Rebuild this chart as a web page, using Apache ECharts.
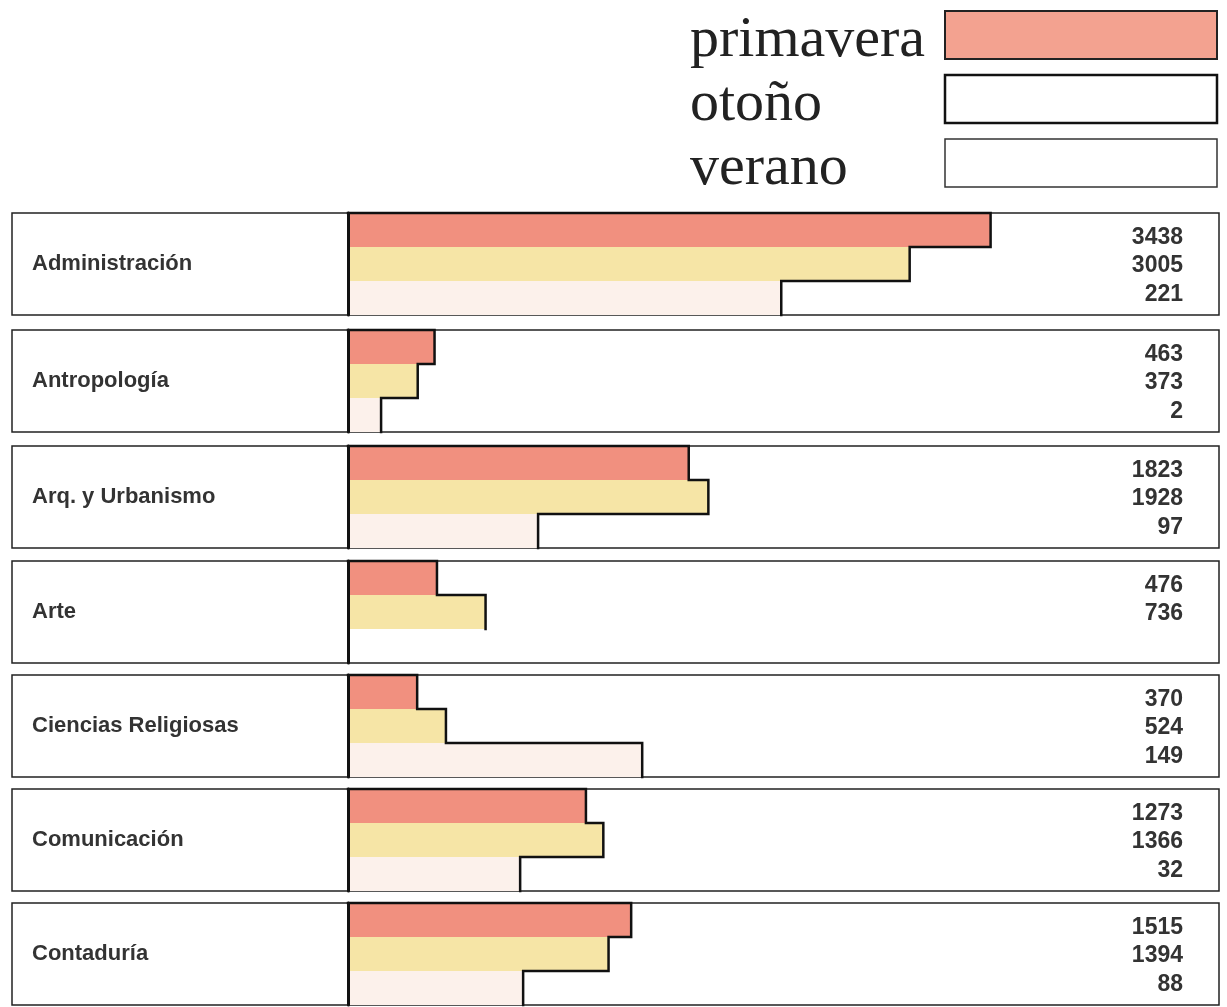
<!DOCTYPE html>
<html>
<head>
<meta charset="utf-8">
<script src="https://cdn.jsdelivr.net/npm/echarts@6.0.0/dist/echarts.min.js"></script>
<style>
html,body{margin:0;padding:0;background:#ffffff;}
#chart{width:1227px;height:1007px;}
</style>
</head>
<body>
<div id="chart"></div>
<script>
// ---------------- data ----------------
const categories = ['Administración', 'Antropología', 'Arq. y Urbanismo', 'Arte', 'Ciencias Religiosas', 'Comunicación', 'Contaduría'];
const seasons = ['primavera', 'otoño', 'verano'];
const primavera = [3438, 463, 1823, 476, 370, 1273, 1515];
const otono = [3005, 373, 1928, 736, 524, 1366, 1394];
// printed verano figures (Arte has none)
const verano = [221, 2, 97, null, 149, 32, 88];
// verano bar lengths as drawn in the original, in the same units as the axis
// (the printed figures above are not drawn to scale in the source)
const veranoBar = [2318, 177, 1017, null, 1574, 921, 937];

// ---------------- layout ----------------
const panelTops = [213, 330, 446, 561, 675, 789, 903];
const panelH = 102;
const leftX = 12, splitX = 348, rightX = 1219;
const axisMax = 4660;

const colors = { primavera: '#f1907f', otono: '#f6e5a6', verano: '#fcf1eb' };
const textColor = '#333333';
const sansFont = '"Liberation Sans", Arial, Helvetica, sans-serif';

const grid = [], xAxis = [], yAxis = [], series = [];

categories.forEach((cat, i) => {
  const top = panelTops[i];
  // label cell
  const gL = grid.length;
  grid.push({ left: leftX, top: top, width: splitX - leftX, height: panelH, show: true,
    borderColor: '#222', borderWidth: 1.5, backgroundColor: '#fff', outerBoundsMode: 'none', containLabel: false });
  xAxis.push({ gridIndex: gL, type: 'value', show: false });
  yAxis.push({ gridIndex: gL, type: 'category', data: [cat],
    axisLine: { show: false }, axisTick: { show: false }, splitLine: { show: false },
    axisLabel: { inside: true, interval: 0, margin: 20, fontFamily: sansFont, fontWeight: 'bold', fontSize: 22, color: textColor } });

  // bar cell
  const gB = grid.length;
  grid.push({ left: splitX, top: top, width: rightX - splitX, height: panelH, show: true,
    borderColor: '#222', borderWidth: 1.5, backgroundColor: 'transparent', outerBoundsMode: 'none', containLabel: false });
  const xB = xAxis.length;
  xAxis.push({ gridIndex: gB, type: 'value', min: 0, max: axisMax, show: false });
  const yBc = yAxis.length;
  yAxis.push({ gridIndex: gB, type: 'category', data: seasons, inverse: true, position: 'left', z: 10,
    axisLine: { show: true, onZero: false, lineStyle: { color: '#111', width: 3 } },
    axisTick: { show: false }, axisLabel: { show: false }, splitLine: { show: false } });
  const yBv = yAxis.length;
  yAxis.push({ gridIndex: gB, type: 'value', min: 0, max: 3, inverse: true, position: 'right', show: false });

  // number cell
  const gN = grid.length;
  grid.push({ left: splitX, top: top + 10, width: rightX - splitX, height: panelH - 16, show: false,
    outerBoundsMode: 'none', containLabel: false });
  xAxis.push({ gridIndex: gN, type: 'value', show: false });
  yAxis.push({ gridIndex: gN, type: 'category', inverse: true, position: 'right',
    data: [String(primavera[i]), String(otono[i]), verano[i] == null ? '' : String(verano[i])],
    axisLine: { show: false }, axisTick: { show: false }, splitLine: { show: false },
    axisLabel: { inside: true, interval: 0, hideOverlap: false, margin: 36, fontFamily: sansFont, fontWeight: 'bold', fontSize: 23, color: textColor } });

  const common = { type: 'bar', xAxisIndex: xB, yAxisIndex: yBc, barWidth: '100%', barGap: '-100%', silent: true, z: 2 };
  series.push(Object.assign({ name: 'primavera', data: [primavera[i], '-', '-'], itemStyle: { color: colors.primavera } }, common));
  series.push(Object.assign({ name: 'otoño', data: ['-', otono[i], '-'], itemStyle: { color: colors.otono } }, common));
  series.push(Object.assign({ name: 'verano', data: ['-', '-', veranoBar[i] == null ? '-' : veranoBar[i]], itemStyle: { color: colors.verano } }, common));

  // stepped black outline along the bar ends
  const pts = [[0, 0], [primavera[i], 0], [primavera[i], 1], [otono[i], 1], [otono[i], 2]];
  if (veranoBar[i] != null) { pts.push([veranoBar[i], 2], [veranoBar[i], 3]); }
  series.push({ type: 'line', name: 'outline', xAxisIndex: xB, yAxisIndex: yBv, data: pts,
    symbol: 'none', clip: false, silent: true, z: 5, animation: false,
    lineStyle: { color: '#111', width: 2.5, cap: 'square', join: 'miter' } });
});

const chart = echarts.init(document.getElementById('chart'), null, { renderer: 'canvas' });
chart.setOption({
  backgroundColor: '#ffffff',
  animation: false,
  legend: {
    orient: 'vertical',
    left: 690,
    top: 0,
    padding: 0,
    align: 'right',
    icon: 'rect',
    itemWidth: 272,
    itemHeight: 48,
    itemGap: -6,
    selectedMode: false,
    formatter: function (name) { return '{t|' + name + '}'; },
    textStyle: {
      color: '#222',
      rich: {
        t: { fontFamily: '"Liberation Serif", "Times New Roman", serif', fontSize: 58, color: '#222',
          width: 250, align: 'left', lineHeight: 58, padding: [12, 0, 0, 0] }
      }
    },
    data: [
      { name: 'primavera', itemStyle: { color: '#f3a290', borderColor: '#222', borderWidth: 2 } },
      { name: 'otoño', itemStyle: { color: '#ffffff', borderColor: '#111', borderWidth: 2.5 } },
      { name: 'verano', itemStyle: { color: '#ffffff', borderColor: '#333', borderWidth: 1.5 } }
    ]
  },
  grid: grid,
  xAxis: xAxis,
  yAxis: yAxis,
  series: series
});
</script>
</body>
</html>
